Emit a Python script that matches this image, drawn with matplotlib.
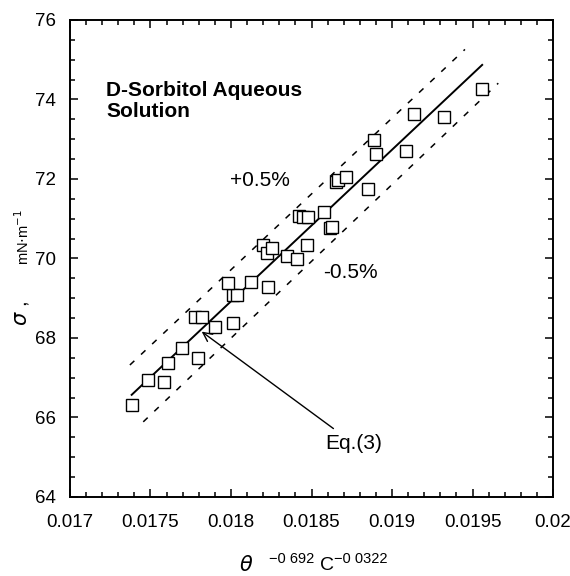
import matplotlib
matplotlib.use("Agg")
import matplotlib.pyplot as plt
from matplotlib.ticker import MultipleLocator

plt.rcParams['font.family'] = ['Liberation Sans', 'DejaVu Sans']

# measured surface tension of D-sorbitol solutions
x_meas = [0.017383, 0.017486, 0.017584, 0.017610, 0.017694, 0.017797,
          0.017776, 0.017822, 0.017901, 0.018014, 0.018014, 0.018035,
          0.017983, 0.018122, 0.018232, 0.018200, 0.018221, 0.018252,
          0.018346, 0.018408, 0.018470, 0.018422, 0.018449, 0.018480,
          0.018577, 0.018615, 0.018625, 0.018652, 0.018666, 0.018714,
          0.018853, 0.018888, 0.018900, 0.019085, 0.019136, 0.019323,
          0.019557]
sigma_meas = [66.31, 66.94, 66.90, 67.36, 67.74, 67.50,
              68.52, 68.52, 68.28, 68.37, 69.08, 69.08,
              69.38, 69.42, 69.29, 70.34, 70.13, 70.26,
              70.05, 69.98, 70.34, 71.07, 71.05, 71.05,
              71.16, 70.76, 70.80, 71.93, 71.97, 72.04,
              71.74, 72.98, 72.62, 72.71, 73.63, 73.57,
              74.26]

# Eq.(3) correlation and the +/-0.5% band
fit_x = [0.017383, 0.019560]
fit_y = [66.57, 74.87]
upper_x = [0.017372, 0.019453]
upper_y = [67.32, 75.26]
lower_x = [0.017455, 0.019660]
lower_y = [65.89, 74.41]

x_ticks = [0.017, 0.0175, 0.018, 0.0185, 0.019, 0.0195, 0.02]
x_ticklabels = ['0.017', '0.0175', '0.018', '0.0185', '0.019', '0.0195', '0.02']

fig = plt.figure(figsize=(5.7, 5.76), dpi=100)
ax = fig.add_axes([0.1228, 0.1372, 0.8474, 0.8281])

ax.plot(fit_x, fit_y, color='black', lw=1.4)
ax.plot(upper_x, upper_y, color='black', lw=1.1, ls=(0, (4, 6)))
ax.plot(lower_x, lower_y, color='black', lw=1.1, ls=(0, (4, 6)))
ax.plot(x_meas, sigma_meas, ls='none', marker='s', ms=9,
        mfc='white', mec='black', mew=1.0)

ax.set_xlim(0.017, 0.02)
ax.set_ylim(64, 76)
ax.set_xticks(x_ticks)
ax.set_xticklabels(x_ticklabels)
ax.xaxis.set_minor_locator(MultipleLocator(0.0001))
ax.yaxis.set_major_locator(MultipleLocator(2))
ax.yaxis.set_minor_locator(MultipleLocator(0.5))
ax.tick_params(which='both', direction='in', top=True, right=True, width=1.1,
               labelsize=13.5)
ax.tick_params(which='major', length=6)
ax.tick_params(axis='x', which='major', pad=12)
ax.tick_params(axis='y', which='major', pad=10)
ax.tick_params(which='minor', length=3.5)
for s in ax.spines.values():
    s.set_linewidth(1.4)

ax.text(0.017224, 74.47, 'D-Sorbitol Aqueous\nSolution', fontsize=15,
        fontweight='bold', va='top', ha='left', linespacing=1.12)
ax.text(0.017994, 71.95, '+0.5%', fontsize=15, va='center')
ax.text(0.018571, 69.64, '-0.5%', fontsize=15, va='center')
ax.annotate('Eq.(3)', xy=(0.017818, 68.16), xytext=(0.018584, 65.35),
            fontsize=15, va='center', ha='left',
            arrowprops=dict(arrowstyle='->', color='black', lw=1.0,
                            shrinkA=3, shrinkB=0, mutation_scale=16))

# y axis label: sigma, mN.m-1
fig.text(0.038, 1 - 314 / 576, r'$\sigma$ ,', rotation=90, fontsize=15,
         ha='center', va='center')
fig.text(0.040, 1 - 237 / 576, r'mN$\cdot$m$^{-1}$', rotation=90, fontsize=10.5,
         ha='center', va='center')

# x axis label
fig.text(246 / 570, 1 - 565 / 576, r'$\theta$', fontsize=15, ha='center', va='center')
fig.text(292 / 570, 1 - 559 / 576, '\u22120 692', fontsize=10.5, ha='center', va='center')
fig.text(327 / 570, 1 - 566 / 576, 'C', fontsize=14, ha='center', va='center')
fig.text(361 / 570, 1 - 559 / 576, '\u22120 0322', fontsize=10.5, ha='center', va='center')

fig.savefig('out.png', dpi=100)
